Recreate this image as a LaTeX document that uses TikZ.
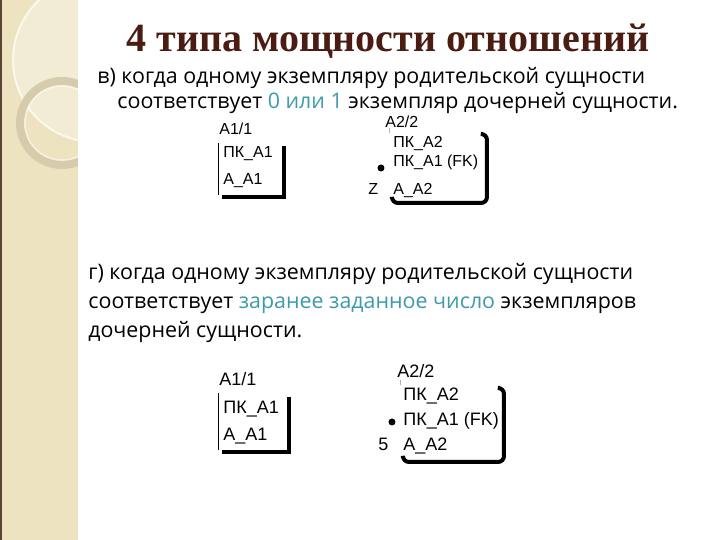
\documentclass[tikz,border=0pt]{standalone}
\usepackage{fontspec}
\setmainfont{Open Sans}
\newfontfamily\titlefont{Liberation Serif}
\newfontfamily\erfont{Liberation Sans}
\usetikzlibrary{positioning}
\definecolor{band}{HTML}{EEE3C0}
\definecolor{bandedge}{HTML}{5A4632}
\definecolor{titlebrown}{HTML}{4A1C12}
\definecolor{hilite}{HTML}{3E9AAB}
\tikzset{
  txt/.style={anchor=base west, inner sep=0pt, font=\fontsize{10.7}{12}\selectfont},
  ent/.style={anchor=base west, inner sep=0pt, font=\erfont\fontsize{8}{9}\selectfont},
  entb/.style={anchor=base west, inner sep=0pt, font=\erfont\fontsize{9}{10}\selectfont},
  shadow/.style={line width=2pt},
}
\begin{document}
\begin{tikzpicture}[x=0.5pt,y=-0.5pt]
	\useasboundingbox (0,0) rectangle (720,540);
	% left band
	\fill[band] (0,0) rectangle (78,540);
	\fill[bandedge] (0,0) rectangle (2,540);
	\begin{scope}
		\clip (2,0) rectangle (78,540);
		\fill[white,opacity=0.35] (95,60) circle (82);
		\draw[white,opacity=0.7,line width=1pt] (95,60) circle (82);
		\draw[black!10!band,line width=4pt] (62,123) circle (42);
		\draw[white,opacity=0.5,line width=0.8pt] (62,123) circle (37);
	\end{scope}
	% title
	\node (t) at (388,41) {\titlefont\bfseries\fontsize{20}{22}\selectfont\color{titlebrown}4 типа мощности отношений};
	% case v
	\node[txt] (v1) at (97,84) {в) когда одному экземпляру родительской сущности};
	\node[txt] (v2) at (117,109) {соответствует \textcolor{hilite}{0 или 1} экземпляр дочерней сущности.};
	% case g
	\node[txt] (g1) at (88,280) {г) когда одному экземпляру родительской сущности};
	\node[txt] (g2) at (88,309) {соответствует \textcolor{hilite}{заранее заданное число} экземпляров};
	\node[txt] (g3) at (88,338) {дочерней сущности.};
	% entity A1 (v)
	\node[ent] (a1) at (219,135) {A1/1};
	\node[ent] (a1k) at (223,158) {ПК\_А1};
	\node[ent] (a1a) at (223,185) {А\_А1};
	\draw (218,143) -- (218,195);
	\draw[shadow] (284,146) -- (284,197) -- (222,197);
	% entity A2 (v)
	\node[ent] (a2) at (385,128) {A2/2};
	\node[ent] (a2k) at (393,148) {ПК\_А2};
	\node[ent] (a2f) at (393,167) {ПК\_А1 (FK)};
	\node[ent] (a2a) at (393,195) {А\_А2};
	\node[ent] (z) at (368,195) {Z};
	\fill (381,168) circle (3.5);
	\draw[gray!60] (389,128) -- (389,133);
	\draw[shadow,rounded corners=3pt] (392,199) -- (392,203) -- (487,203) -- (487,134) -- (483,134);
	% entity A1 (g)
	\node[entb] (b1) at (219,386) {A1/1};
	\node[entb] (b1k) at (223,414) {ПК\_А1};
	\node[entb] (b1a) at (223,441) {А\_А1};
	\draw (218,393) -- (218,450);
	\draw[shadow] (289,397) -- (289,452) -- (222,452);
	% entity A2 (g)
	\node[entb] (b2) at (397,378) {A2/2};
	\node[entb] (b2k) at (403,401) {ПК\_А2};
	\node[entb] (b2f) at (403,426) {ПК\_А1 (FK)};
	\node[entb] (b2a) at (403,451) {А\_А2};
	\node[entb] (n5) at (378,451) {5};
	\fill (392,422) circle (3.5);
	\draw[gray!60] (400,380) -- (400,385);
	\draw[shadow,rounded corners=3pt] (403,458) -- (403,462) -- (504,462) -- (504,388) -- (500,388);
\end{tikzpicture}
\end{document}
